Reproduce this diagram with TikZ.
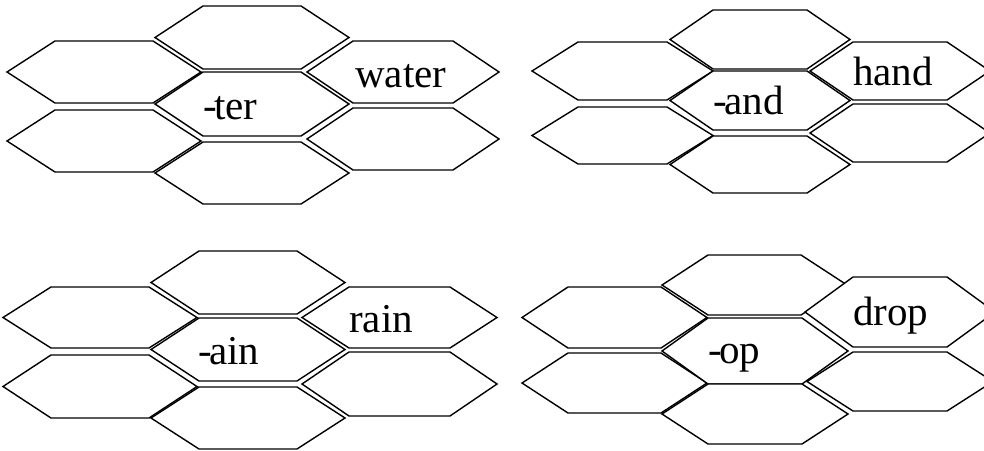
\documentclass[tikz,border=0pt]{standalone}
\usepackage{fontspec}
\setmainfont{Liberation Serif}
\tikzset{
  hexcell/.style={draw=black, fill=white, line width=1.4pt, line join=miter},
  word/.style={inner sep=0pt, anchor=base west, font=\fontsize{41}{43}\selectfont}
}
% #1 xL, #2 xR, #3 yTop, #4 yBottom, #5 inset
\newcommand\hexcell[5]{%
  \filldraw[hexcell] (#1,{(#3+#4)/2}) -- (#1+#5,#3) -- (#2-#5,#3) -- (#2,{(#3+#4)/2}) -- (#2-#5,#4) -- (#1+#5,#4) -- cycle;}
\newcommand\hy{-\kern-2.5pt}
\begin{document}
\begin{tikzpicture}[x=1pt,y=-1pt]
\useasboundingbox (0,0) rectangle (984,450);
\clip (0,0) rectangle (984,450);
\fill[white] (0,0) rectangle (984,450);
% ---- cluster 1 (water)
\hexcell{155}{349}{6}{69}{48}
\hexcell{7}{201}{41}{103}{48}
\hexcell{7}{201}{110}{172}{48}
\hexcell{155}{349}{72}{136}{48}
\hexcell{155}{349}{142}{204}{48}
\hexcell{307}{499}{108}{170}{46}
\hexcell{307}{499}{41}{103}{46}
\node[word] (w1) at (355,87) {water};
\node[word] (s1) at (203,119) {\hy ter};
% ---- cluster 2 (hand)
\hexcell{670}{850}{10}{69}{43}
\hexcell{532}{713}{42}{100}{46}
\hexcell{532}{713}{107}{164}{46}
\hexcell{670}{850}{71}{130}{43}
\hexcell{670}{850}{136}{193}{43}
\hexcell{810}{990}{104}{162}{43}
\hexcell{810}{990}{42}{100}{43}
\node[word] (w2) at (853,85) {hand};
\node[word] (s2) at (713,114) {\hy and};
% ---- cluster 3 (rain)
\hexcell{151}{345}{251}{314}{48}
\hexcell{3}{197}{287}{348}{48}
\hexcell{3}{197}{355}{418}{48}
\hexcell{151}{345}{318}{381}{48}
\hexcell{151}{345}{387}{449}{48}
\hexcell{302}{497}{352}{416}{47}
\hexcell{302}{497}{287}{348}{47}
\node[word] (w3) at (349,332) {rain};
\node[word] (s3) at (198,364) {\hy ain};
% ---- cluster 4 (drop)
\hexcell{662}{847}{255}{315}{46}
\hexcell{522}{707}{287}{348}{46}
\hexcell{522}{707}{353}{413}{46}
\hexcell{662}{848}{318}{384}{46}
\hexcell{662}{848}{384}{444}{46}
\hexcell{807}{993}{352}{411}{46}
\hexcell{805}{995}{277}{347}{48}
\node[word] (w4) at (853,325) {drop};
\node[word] (s4) at (708,363) {\hy op};
\end{tikzpicture}
\end{document}
